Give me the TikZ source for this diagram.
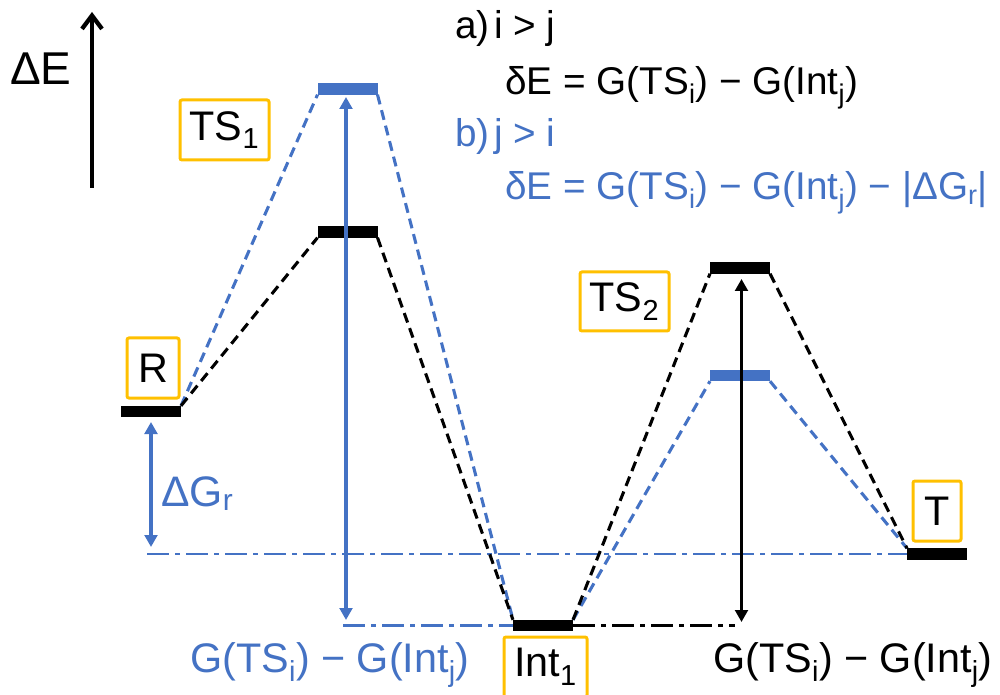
\documentclass[tikz,border=0pt]{standalone}
\usepackage{fontspec}
\setmainfont{Liberation Sans}
\usetikzlibrary{arrows.meta}
\definecolor{pblue}{RGB}{68,114,196}
\definecolor{porange}{RGB}{255,192,0}
\tikzset{
 lvl/.style={fill=black, minimum width=45pt, minimum height=8.5pt, inner sep=0pt, outer sep=0pt},
 lvlb/.style={lvl, fill=pblue},
 lbl/.style={draw=porange, line width=2.25pt, rounded corners=1.5pt, inner sep=0pt, font=\fontsize{31}{37}\selectfont},
 conn/.style={dash pattern=on 7.5pt off 4.5pt, line width=2.3pt},
 ddash/.style={dash pattern=on 16.5pt off 4.5pt on 3.75pt off 4.5pt, line width=1.9pt},
 eq/.style={anchor=base west, inner sep=0pt, font=\fontsize{29}{35}\selectfont},
 biglab/.style={anchor=base west, inner sep=0pt, font=\fontsize{31}{37}\selectfont},
 tri/.style={line width=2.6pt, {Triangle[length=9pt,width=9.5pt]}-{Triangle[length=9pt,width=9.5pt]}}
}
\begin{document}
\begin{tikzpicture}[x=0.75pt,y=-0.75pt]
\clip (0,0) rectangle (1000,695);
% energy levels
\node[lvl] (R) at (151,411.5) {};
\node[lvl] (TS1k) at (347.5,232) {};
\node[lvlb] (TS1b) at (347.5,89) {};
\node[lvl] (I1) at (543,625.5) {};
\node[lvl] (TS2k) at (740,268) {};
\node[lvlb] (TS2b) at (740,375.5) {};
\node[lvl] (T) at (937,554) {};
% labels
\node[lbl, minimum width=66.75pt, minimum height=45pt] (lTS1) at (224.5,130) {TS\textsubscript{1}};
\node[lbl, minimum width=39pt, minimum height=45pt] (lR) at (153,368) {R};
\node[lbl, minimum width=66.75pt, minimum height=44.25pt] (lTS2) at (624.5,301.5) {TS\textsubscript{2}};
\node[lbl, minimum width=36pt, minimum height=45pt] (lT) at (937,511) {T};
\node[lbl, minimum width=62.25pt, minimum height=45pt] (lI1) at (545.5,667) {Int\textsubscript{1}};
% dash-dot reference lines
\coordinate (gl) at (147,554);
\coordinate (bl) at (343,625.5);
\coordinate (kl) at (735,625.5);
\draw[pblue, ddash] (gl) -- (T.west);
\draw[pblue, ddash] (bl) -- (I1.west);
\draw[black, ddash] (I1.east) -- (kl);
% connectors
\draw[pblue, conn] (R.north east) -- (TS1b.south west);
\draw[pblue, conn] (TS1b.south east) -- (I1.north west);
\draw[pblue, conn] (I1.north east) -- (TS2b.south west);
\draw[pblue, conn] (TS2b.south east) -- (T.north west);
\draw[black, conn] (R.north east) -- (TS1k.south west);
\draw[black, conn] (TS1k.south east) -- (I1.north west);
\draw[black, conn] (I1.north east) -- (TS2k.south west);
\draw[black, conn] (TS2k.south east) -- (T.north west);
% redraw bars on top
\node[lvl] at (R) {};
\node[lvl] at (TS1k) {};
\node[lvlb] at (TS1b) {};
\node[lvl] at (I1) {};
\node[lvl] at (TS2k) {};
\node[lvlb] at (TS2b) {};
\node[lvl] at (T) {};
% arrows
\coordinate (ax0) at (92,188);
\coordinate (ax1) at (92,12);
\draw[line width=3.2pt, -{Straight Barb[length=10pt,width=15pt]}] (ax0) -- (ax1);
\coordinate (b1t) at (346,97);
\coordinate (b1b) at (346,620);
\draw[pblue, tri] (b1b) -- (b1t);
\coordinate (k2t) at (741.5,279);
\coordinate (k2b) at (741.5,622);
\draw[black, tri] (k2b) -- (k2t);
\coordinate (gt) at (151,422);
\coordinate (gb) at (151,547);
\draw[pblue, tri] (gb) -- (gt);
% texts
\node[anchor=base west, inner sep=0pt, font=\fontsize{34.5}{40}\selectfont] (dE) at (10,85) {ΔE};
\node[anchor=base west, inner sep=0pt, text=pblue, font=\fontsize{32}{38}\selectfont] (dGr) at (161,506) {ΔG\textsubscript{r}};
\node[biglab, text=pblue] (gb1) at (190,672) {G(TS\textsubscript{i}) − G(Int\textsubscript{j})};
\node[biglab] (gk1) at (713,672) {G(TS\textsubscript{i}) − G(Int\textsubscript{j})};
\node[eq] (ea) at (455,39) {a)};
\node[eq] (ea2) at (494,39) {i > j};
\node[eq] (ea3) at (505,95) {δE = G(TS\textsubscript{i}) − G(Int\textsubscript{j})};
\node[eq, text=pblue] (eb) at (455,147) {b)};
\node[eq, text=pblue] (eb2) at (494,147) {j > i};
\node[eq, text=pblue] (eb3) at (505,200) {δE = G(TS\textsubscript{i}) − G(Int\textsubscript{j}) − |ΔG\textsubscript{r}|};
\end{tikzpicture}
\end{document}
